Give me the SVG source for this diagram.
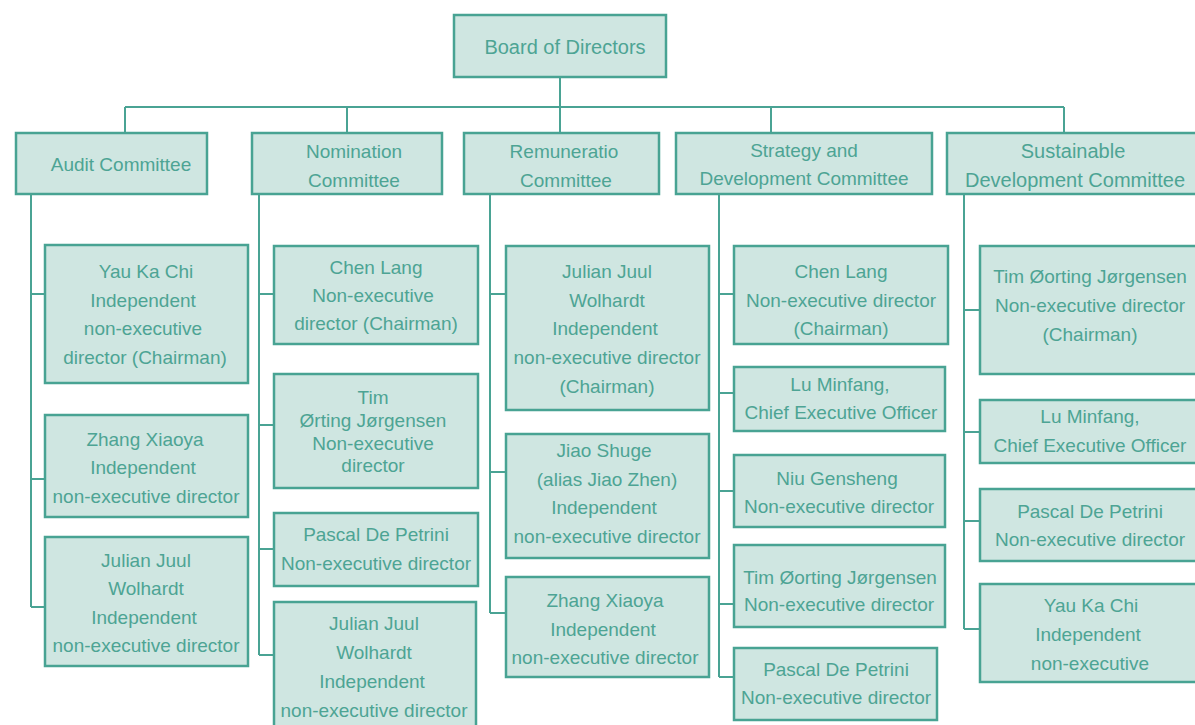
<svg xmlns="http://www.w3.org/2000/svg" width="1195" height="725" viewBox="0 0 1195 725">
<style>
.box{fill:#cfe6e1;stroke:#48a393;stroke-width:2.5}
.ln{fill:none;stroke:#4aa394;stroke-width:2}
text{font-family:"Liberation Sans",Arial,sans-serif;font-size:19px;fill:#4da494;text-anchor:middle;dominant-baseline:central}
.big{font-size:20px}
</style>
<rect width="1195" height="725" fill="#ffffff"/>
<g id="connectors">
<path class="ln" d="M560 77V107M125 107H1064M125 107V133M347 107V133M560 107V133M771 107V133M1064 107V133"/>
<path class="ln" d="M31 194V607M31 294H45M31 479H45M31 607H45"/>
<path class="ln" d="M259 194V655M259 294H274M259 425H274M259 549H274M259 655H274"/>
<path class="ln" d="M490 194V613M490 294H506M490 472H506M490 613H506"/>
<path class="ln" d="M719 194V677M719 294H734M719 393H734M719 491H734M719 604H734M719 677H734"/>
<path class="ln" d="M964 194V629M964 310H980M964 432H980M964 521H980M964 629H980"/>
</g>
<g id="board"><rect class="box" x="454" y="15" width="212" height="62"/><text class="big" x="565" y="47">Board of Directors</text></g>
<g id="audit"><rect class="box" x="16" y="133" width="191" height="61"/><text x="121" y="164">Audit Committee</text></g>
<g id="nomination"><rect class="box" x="252" y="133" width="190" height="61"/><text x="354" y="151">Nomination</text><text x="354" y="180">Committee</text></g>
<g id="remuneration"><rect class="box" x="464" y="133" width="195" height="61"/><text x="564" y="151">Remuneratio</text><text x="566" y="180">Committee</text></g>
<g id="strategy"><rect class="box" x="676" y="133" width="256" height="61"/><text x="804" y="150">Strategy and</text><text x="804" y="178">Development Committee</text></g>
<g id="sustainable"><rect class="box" x="947" y="133" width="260" height="61"/><text class="big" x="1073" y="151">Sustainable</text><text class="big" x="1075" y="180">Development Committee</text></g>

<g id="audit-yau"><rect class="box" x="45" y="245" width="203" height="138"/><text x="146" y="271">Yau Ka Chi</text><text x="143" y="300">Independent</text><text x="143" y="328">non-executive</text><text x="145" y="357">director (Chairman)</text></g>
<g id="audit-zhang"><rect class="box" x="45" y="415" width="203" height="102"/><text x="145" y="439">Zhang Xiaoya</text><text x="143" y="467">Independent</text><text x="146" y="496">non-executive director</text></g>
<g id="audit-julian"><rect class="box" x="45" y="537" width="203" height="129"/><text x="146" y="560">Julian Juul</text><text x="146" y="588">Wolhardt</text><text x="144" y="617">Independent</text><text x="146" y="645">non-executive director</text></g>

<g id="nom-chen"><rect class="box" x="274" y="246" width="204" height="98"/><text x="376" y="267">Chen Lang</text><text x="373" y="295">Non-executive</text><text x="376" y="323">director (Chairman)</text></g>
<g id="nom-tim"><rect class="box" x="274" y="374" width="204" height="114"/><text x="373" y="397">Tim</text><text x="373" y="420">Ørting Jørgensen</text><text x="373" y="443">Non-executive</text><text x="373" y="465">director</text></g>
<g id="nom-pascal"><rect class="box" x="274" y="513" width="204" height="73"/><text x="376" y="534">Pascal De Petrini</text><text x="376" y="563">Non-executive director</text></g>
<g id="nom-julian"><rect class="box" x="274" y="602" width="202" height="130"/><text x="374" y="623">Julian Juul</text><text x="374" y="652">Wolhardt</text><text x="372" y="681">Independent</text><text x="374" y="710">non-executive director</text></g>

<g id="rem-julian"><rect class="box" x="506" y="246" width="203" height="164"/><text x="607" y="271">Julian Juul</text><text x="607" y="300">Wolhardt</text><text x="605" y="328">Independent</text><text x="607" y="357">non-executive director</text><text x="607" y="386">(Chairman)</text></g>
<g id="rem-jiao"><rect class="box" x="506" y="434" width="203" height="124"/><text x="604" y="450">Jiao Shuge</text><text x="607" y="479">(alias Jiao Zhen)</text><text x="604" y="507">Independent</text><text x="607" y="536">non-executive director</text></g>
<g id="rem-zhang"><rect class="box" x="506" y="577" width="203" height="100"/><text x="605" y="600">Zhang Xiaoya</text><text x="603" y="629">Independent</text><text x="605" y="657">non-executive director</text></g>

<g id="str-chen"><rect class="box" x="734" y="246" width="214" height="98"/><text x="841" y="271">Chen Lang</text><text x="841" y="300">Non-executive director</text><text x="841" y="328">(Chairman)</text></g>
<g id="str-lu"><rect class="box" x="734" y="367" width="211" height="64"/><text x="840" y="384">Lu Minfang,</text><text x="841" y="412">Chief Executive Officer</text></g>
<g id="str-niu"><rect class="box" x="734" y="455" width="211" height="72"/><text x="837" y="478">Niu Gensheng</text><text x="839" y="506">Non-executive director</text></g>
<g id="str-tim"><rect class="box" x="734" y="545" width="211" height="82"/><text x="840" y="577">Tim Øorting Jørgensen</text><text x="839" y="604">Non-executive director</text></g>
<g id="str-pascal"><rect class="box" x="734" y="648" width="203" height="72"/><text x="836" y="669">Pascal De Petrini</text><text x="836" y="697">Non-executive director</text></g>

<g id="sus-tim"><rect class="box" x="980" y="246" width="225" height="128"/><text x="1090" y="276">Tim Øorting Jørgensen</text><text x="1090" y="305">Non-executive director</text><text x="1090" y="334">(Chairman)</text></g>
<g id="sus-lu"><rect class="box" x="980" y="400" width="225" height="63"/><text x="1090" y="416">Lu Minfang,</text><text x="1090" y="445">Chief Executive Officer</text></g>
<g id="sus-pascal"><rect class="box" x="980" y="489" width="225" height="72"/><text x="1090" y="511">Pascal De Petrini</text><text x="1090" y="539">Non-executive director</text></g>
<g id="sus-yau"><rect class="box" x="980" y="584" width="225" height="98"/><text x="1091" y="605">Yau Ka Chi</text><text x="1088" y="634">Independent</text><text x="1090" y="663">non-executive</text></g>
</svg>
